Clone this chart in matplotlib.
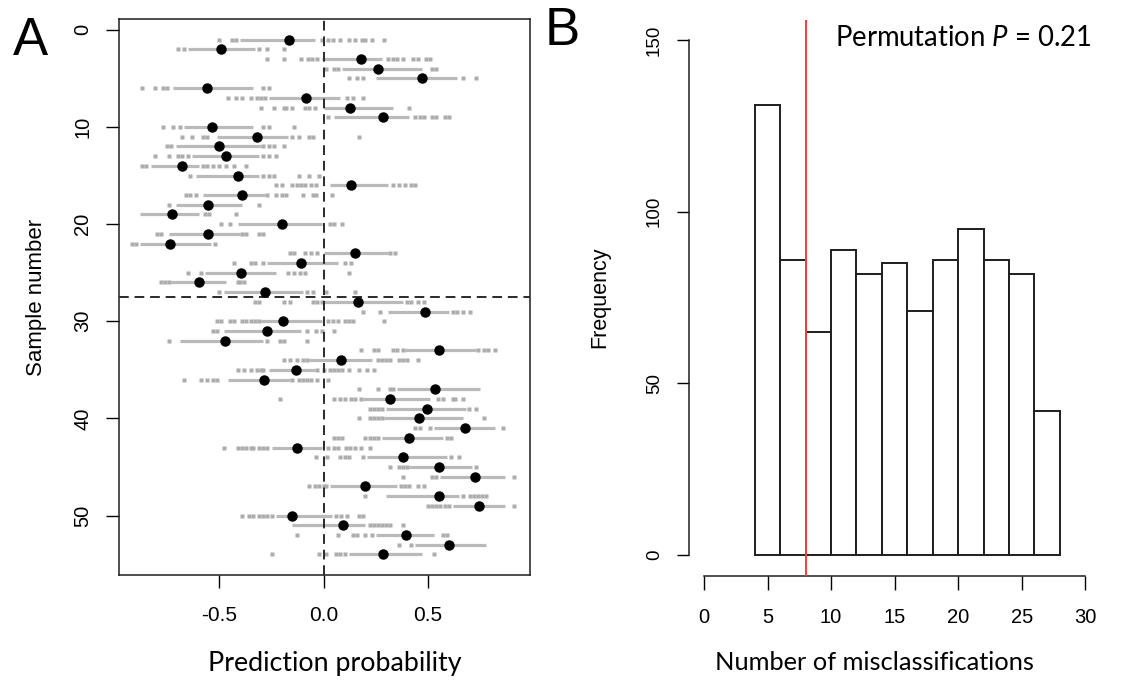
import numpy as np
import matplotlib
matplotlib.use("Agg")
import matplotlib.pyplot as plt

plt.rcParams.update({
    "font.family": "Liberation Sans",
    "mathtext.fontset": "custom",
    "mathtext.rm": "Lato",
    "mathtext.it": "Lato:italic",
})

# ── Panel A: prediction probability per sample ───────────────────────────────
sample_no = np.arange(1, 55)

median_pred = [
    -0.166, -0.49, 0.18, 0.26, 0.47, -0.56, -0.086, 0.124, 0.284, -0.534,
    -0.32, -0.50, -0.47, -0.68, -0.41, 0.132, -0.39, -0.553, -0.726, -0.198,
    -0.553, -0.738, 0.152, -0.107, -0.396, -0.60, -0.28, 0.164, 0.488, -0.193,
    -0.27, -0.474, 0.555, 0.085, -0.131, -0.285, 0.533, 0.316, 0.494, 0.455,
    0.679, 0.408, -0.126, 0.38, 0.552, 0.726, 0.198, 0.552, 0.743, -0.153,
    0.093, 0.396, 0.60, 0.284,
]

band_lo = [
    -0.40, -0.65, -0.01, 0.09, 0.25, -0.72, -0.26, 0.00, 0.05, -0.67,
    -0.51, -0.71, -0.63, -0.83, -0.61, 0.03, -0.58, -0.71, -0.88, -0.41,
    -0.74, -0.88, 0.00, -0.27, -0.57, -0.73, -0.48, 0.00, 0.31, -0.30,
    -0.48, -0.69, 0.39, -0.07, -0.26, -0.46, 0.35, 0.19, 0.30, 0.29,
    0.53, 0.28, -0.25, 0.21, 0.41, 0.56, 0.03, 0.30, 0.62, -0.23,
    -0.15, 0.25, 0.44, 0.12,
]

band_hi = [
    -0.04, -0.33, 0.28, 0.47, 0.64, -0.34, 0.08, 0.33, 0.41, -0.34,
    -0.17, -0.30, -0.31, -0.60, -0.31, 0.31, -0.28, -0.39, -0.60, -0.01,
    -0.40, -0.54, 0.31, 0.07, -0.23, -0.47, -0.10, 0.38, 0.60, -0.01,
    -0.11, -0.29, 0.73, 0.23, -0.04, -0.16, 0.75, 0.51, 0.68, 0.67,
    0.82, 0.57, -0.01, 0.59, 0.71, 0.87, 0.35, 0.65, 0.87, 0.04,
    0.20, 0.53, 0.78, 0.47,
]

stray_pred = [
    [-0.50, -0.44, -0.42, -0.01, 0.02, 0.045, 0.08, 0.12, 0.15, 0.185, 0.20, 0.23, 0.29],
    [-0.70, -0.67, -0.31, -0.27, -0.19],
    [-0.27, -0.19, -0.11, -0.075, -0.055, -0.03, 0.31, 0.33, 0.35, 0.38, 0.43, 0.45, 0.49, 0.51],
    [0.01, 0.05, 0.07, 0.52, 0.54],
    [0.12, 0.16, 0.19, 0.67, 0.73],
    [-0.87, -0.81, -0.77, -0.75, -0.29, -0.26],
    [-0.46, -0.42, -0.39, -0.35, -0.32, -0.30, -0.28, 0.11, 0.14, 0.19],
    [-0.30, -0.24, -0.19, -0.18, -0.15, -0.09, -0.07, -0.04, 0.41],
    [0.02, 0.44, 0.46, 0.48, 0.52, 0.54, 0.58, 0.60],
    [-0.77, -0.72, -0.69, -0.29, -0.26, -0.14],
    [-0.68, -0.63, -0.58, -0.56, -0.15, -0.12, -0.07, -0.05, 0.17],
    [-0.75, -0.73, -0.29, -0.26, -0.24, -0.19],
    [-0.81, -0.74, -0.70, -0.68, -0.65, -0.29, -0.26, -0.23],
    [-0.87, -0.85, -0.58, -0.56, -0.53, -0.50, -0.47, -0.43, -0.37],
    [-0.64, -0.29, -0.26, -0.24, -0.12, -0.07, -0.02],
    [-0.23, -0.20, -0.15, -0.13, -0.11, -0.09, -0.06, -0.035, 0.33, 0.36, 0.39, 0.42, 0.44],
    [-0.66, -0.64, -0.61, -0.27, -0.23, -0.20, -0.18, -0.10, -0.05, -0.035, 0.04],
    [-0.74, -0.31],
    [-0.57, -0.55, -0.42],
    [-0.49, -0.45, 0.03, 0.05, 0.09],
    [-0.80, -0.78, -0.39, -0.37, -0.31, -0.29],
    [-0.92, -0.90, -0.52],
    [-0.16, -0.14, -0.09, -0.06, -0.03, 0.32, 0.34],
    [-0.43, -0.35, -0.33, -0.29, 0.10, 0.13],
    [-0.65, -0.59, -0.17, -0.14, -0.115, -0.09, 0.12],
    [-0.78, -0.76, -0.74, -0.41, -0.40, -0.38],
    [-0.50, -0.08, -0.05, 0.01, 0.15],
    [-0.33, -0.31, -0.19, -0.16, -0.05, -0.03, -0.01, 0.40, 0.42, 0.45, 0.48],
    [0.19, 0.27, 0.62, 0.64, 0.67, 0.70],
    [-0.51, -0.49, -0.45, -0.43, -0.39, -0.37, -0.35, -0.33, -0.31, 0.02, 0.045, 0.07, 0.10, 0.12, 0.14, 0.29],
    [-0.53, -0.51, -0.08, -0.035, -0.01, 0.05],
    [-0.74, -0.27, -0.21, -0.19, -0.08],
    [0.18, 0.24, 0.26, 0.33, 0.35, 0.38, 0.74, 0.77, 0.79, 0.82],
    [-0.19, -0.16, -0.13, -0.10, -0.08, 0.26, 0.28, 0.30, 0.32, 0.36, 0.38, 0.40, 0.45],
    [-0.41, -0.38, -0.35, -0.32, -0.30, -0.29, -0.03, 0.00, 0.03, 0.05, 0.07, 0.09, 0.12, 0.17, 0.21, 0.24],
    [-0.67, -0.59, -0.56, -0.53, -0.51, -0.15, -0.12, -0.10, -0.08, -0.06, -0.03, 0.02],
    [0.17, 0.26, 0.32, 0.33],
    [-0.21, 0.05, 0.08, 0.10, 0.13, 0.15, 0.18, 0.55, 0.57, 0.62, 0.63, 0.67],
    [0.22, 0.24, 0.26, 0.28, 0.695, 0.73],
    [0.17, 0.22, 0.24, 0.26, 0.28, 0.77],
    [0.44, 0.46, 0.51, 0.86],
    [0.05, 0.07, 0.09, 0.20, 0.22, 0.24, 0.26, 0.59, 0.61],
    [-0.48, -0.41, -0.39, -0.37, -0.35, -0.34, -0.31, -0.29, -0.27, 0.02, 0.05, 0.07, 0.105, 0.125, 0.15, 0.18, 0.22],
    [-0.035, 0.016, 0.08, 0.10, 0.12, 0.19, 0.61, 0.65],
    [0.32, 0.36, 0.38, 0.40, 0.73],
    [0.38, 0.52, 0.54, 0.91],
    [-0.07, -0.04, -0.02, 0.00, 0.01, 0.37, 0.39, 0.41, 0.45, 0.48],
    [0.20, 0.67, 0.70, 0.72, 0.74, 0.76, 0.78],
    [0.50, 0.52, 0.54, 0.56, 0.58, 0.60, 0.91],
    [-0.39, -0.36, -0.34, -0.31, -0.29, -0.27, -0.25, 0.06, 0.085, 0.11, 0.17, 0.19],
    [0.22, 0.24, 0.26, 0.28, 0.30, 0.32, 0.38],
    [-0.13, 0.07, 0.14, 0.16, 0.20, 0.23, 0.57, 0.59],
    [0.36, 0.42],
    [-0.25, -0.02, 0.01, 0.06, 0.08, 0.10, 0.53],
]

split_at = 27.5
x_ticks_a = [-0.5, 0.0, 0.5]
x_ticklabels_a = ["-0.5", "0.0", "0.5"]
y_ticks_a = [0, 10, 20, 30, 40, 50]

# ── Panel B: permutation histogram ───────────────────────────────────────────
bin_edges = [4, 6, 8, 10, 12, 14, 16, 18, 20, 22, 24, 26, 28]
bin_counts = [131, 86, 65, 89, 82, 85, 71, 86, 95, 86, 82, 42]
observed_miscl = 8
x_ticks_b = [0, 5, 10, 15, 20, 25, 30]
y_ticks_b = [0, 50, 100, 150]

C_GREY = "#bababa"
C_DASH = "#2a2a2a"
C_EDGE = "#1e1e1e"
C_RED = "#ff3b3b"
TICK_FS = 14.5
LAB_FS = 16
CAL = "Lato"

fig = plt.figure(figsize=(11.25, 6.8), dpi=100)

# --- A ---
axA = fig.add_axes([0.1058, 0.1544, 0.3653, 0.8176])
axA.hlines(sample_no, band_lo, band_hi, color=C_GREY, lw=2.3, zorder=2)
for s, pts in zip(sample_no, stray_pred):
    axA.plot(pts, [s] * len(pts), "s", ms=2.2, mec="none", mfc="#adadad", zorder=2)
axA.plot(median_pred, sample_no, "o", ms=6.5, color="black", zorder=4)
axA.axvline(0, color=C_DASH, lw=1.4, ls=(0, (5, 3)), zorder=3)
axA.axhline(split_at, color=C_DASH, lw=1.4, ls=(0, (5, 3)), zorder=3)

axA.set_xlim(-0.981, 0.989)
axA.set_ylim(56.12, -1.12)
axA.set_xticks(x_ticks_a)
axA.set_xticklabels(x_ticklabels_a, fontsize=TICK_FS + 0.5)
axA.set_yticks(y_ticks_a)
axA.set_yticklabels([str(v) for v in y_ticks_a], fontsize=TICK_FS,
                    rotation=90, va="center")
axA.tick_params(axis="x", length=9.4, width=1.0, pad=13)
axA.tick_params(axis="y", length=9.4, width=1.0, pad=10)
for sp in axA.spines.values():
    sp.set_linewidth(1.1)
    sp.set_color(C_EDGE)
axA.set_ylabel("Sample number", fontsize=LAB_FS, labelpad=19)

# --- B ---
axB = fig.add_axes([0.6122, 0.1535, 0.366, 0.8178])
axB.bar(bin_edges[:-1], bin_counts, width=np.diff(bin_edges), align="edge",
        facecolor="white", edgecolor=C_EDGE, lw=1.4, zorder=2)
axB.axvline(observed_miscl, color=C_RED, lw=1.4, zorder=3)
axB.set_xlim(-1.2, 31.2)
axB.set_ylim(-6, 156)
for side in ("top", "right"):
    axB.spines[side].set_visible(False)
axB.spines["left"].set_bounds(0, 150)
axB.spines["bottom"].set_bounds(0, 30)
for side in ("left", "bottom"):
    axB.spines[side].set_linewidth(1.1)
    axB.spines[side].set_color(C_EDGE)
axB.set_xticks(x_ticks_b)
axB.set_xticklabels([str(v) for v in x_ticks_b], fontsize=TICK_FS)
axB.set_yticks(y_ticks_b)
axB.set_yticklabels([str(v) for v in y_ticks_b], fontsize=TICK_FS - 1,
                    rotation=90, va="center")
axB.tick_params(axis="x", length=10, width=1.0, pad=13)
axB.tick_params(axis="y", length=8.6, width=1.0, pad=10)
axB.set_ylabel("Frequency", fontsize=LAB_FS - 0.5, labelpad=26)

# panel labels and annotations (added text, Calibri-like)
fig.text(0.0275, 0.94, "A", fontsize=38, ha="center", va="center")
fig.text(0.4995, 0.954, "B", fontsize=38, ha="center", va="center")
fig.text(0.298, 0.025, "Prediction probability", family=CAL, fontsize=19.3,
         ha="center", va="center")
fig.text(0.7773, 0.025, "Number of misclassifications", family=CAL,
         fontsize=18.3, ha="center", va="center")
fig.text(0.856, 0.944, "Permutation $P$ = 0.21", family=CAL, fontsize=19.8,
         ha="center", va="center")

fig.savefig("out.png", dpi=100)
